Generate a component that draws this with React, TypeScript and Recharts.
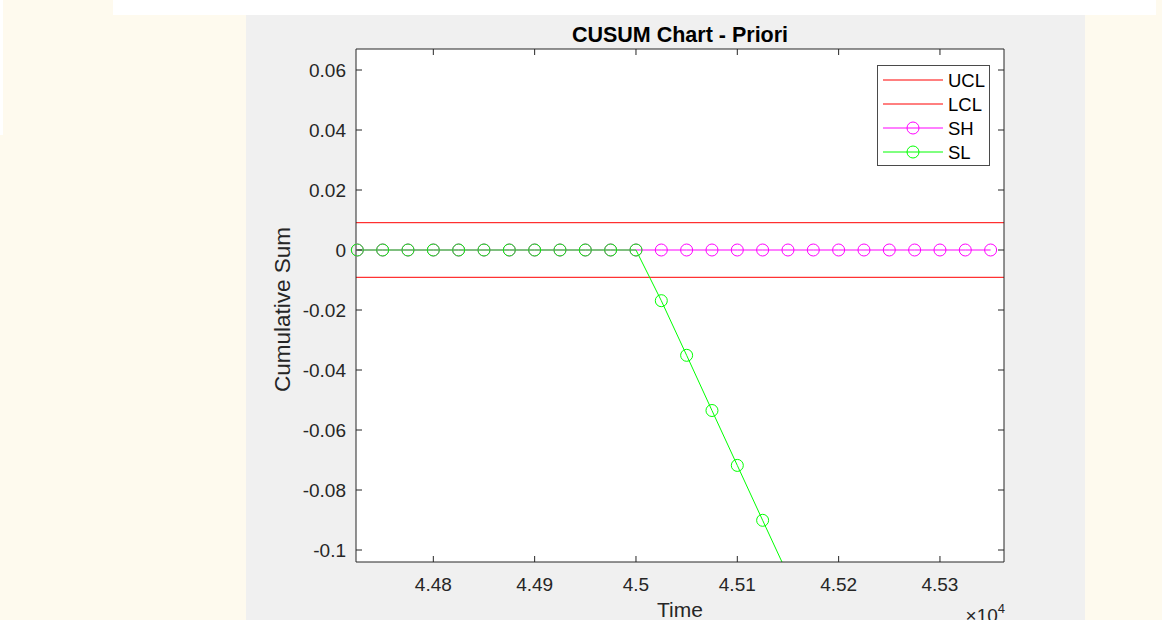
import React from 'react';
import { LineChart, Line, XAxis, YAxis, ReferenceLine, CartesianGrid, Legend } from 'recharts';

// ---- data ----
const timeValues = [
  44725, 44750, 44775, 44800, 44825, 44850, 44875, 44900, 44925, 44950, 44975, 45000,
  45025, 45050, 45075, 45100, 45125, 45150, 45175, 45200, 45225, 45250, 45275, 45300,
  45325, 45350,
];
const shValues = [
  0, 0, 0, 0, 0, 0, 0, 0, 0, 0, 0, 0,
  0, 0, 0, 0, 0, 0, 0, 0, 0, 0, 0, 0,
  0, 0,
];
const slValues: (number | null)[] = [
  0, 0, 0, 0, 0, 0, 0, 0, 0, 0, 0, 0,
  -0.0169, -0.0351, -0.0535, -0.0718, -0.0901, -0.1083, null, null, null, null, null, null,
  null, null,
];
const uclValue = 0.0091;
const lclValue = -0.0091;
const xTicks = [44800, 44900, 45000, 45100, 45200, 45300];
const yTicks = [0.06, 0.04, 0.02, 0, -0.02, -0.04, -0.06, -0.08, -0.1];
const xDomain = [44723.7, 45363.2];
const yDomain = [-0.104, 0.067];
const legendNames = ['UCL', 'LCL', 'SH', 'SL'];
const legendColors = ['#ff0000', '#ff0000', '#ff00ff', '#00ff00'];
const legendMarkers = [false, false, true, true];

// markers are only drawn for points inside the axis limits (as MATLAB does)
const inRange = (v: number | null) => (v != null && v >= yDomain[0] && v <= yDomain[1] ? v : null);
const rows = timeValues.map((t, i) => ({
  t,
  sh: shValues[i],
  sl: slValues[i],
  slMark: inRange(slValues[i]),
}));

const FONT = '"Liberation Sans", Arial, Helvetica, sans-serif';
const AXIS = '#262626';
const TEXT = '#262626';

const fmtX = (v: number) => parseFloat((v / 10000).toFixed(4)).toString();
const fmtY = (v: number) => parseFloat(v.toFixed(4)).toString();

const BottomTick = (p: any) => (
  <g>
    <line x1={p.x} y1={p.y} x2={p.x} y2={p.y - 6} stroke={AXIS} strokeWidth={1} />
    <text x={p.x} y={p.y + 29} textAnchor="middle" fontSize={19} fill={TEXT} fontFamily={FONT}>
      {fmtX(p.payload.value)}
    </text>
  </g>
);
const TopTick = (p: any) => (
  <line x1={p.x} y1={p.y} x2={p.x} y2={p.y + 6} stroke={AXIS} strokeWidth={1} />
);
const LeftTick = (p: any) => (
  <g>
    <line x1={p.x} y1={p.y} x2={p.x + 6} y2={p.y} stroke={AXIS} strokeWidth={1} />
    <text x={p.x - 10} y={p.y + 7} textAnchor="end" fontSize={19} fill={TEXT} fontFamily={FONT}>
      {fmtY(p.payload.value)}
    </text>
  </g>
);
const RightTick = (p: any) => (
  <line x1={p.x} y1={p.y} x2={p.x - 6} y2={p.y} stroke={AXIS} strokeWidth={1} />
);

const TitleLabel = (p: any) => {
  const vb = p.viewBox;
  return (
    <text x={vb.x + vb.width / 2} y={vb.y - 6} textAnchor="middle" fontSize={21.5} fontWeight="bold" fill="#000" fontFamily={FONT}>
      CUSUM Chart - Priori
    </text>
  );
};
const XLabel = (p: any) => {
  const vb = p.viewBox;
  return (
    <g>
      <text x={vb.x + vb.width / 2} y={vb.y + 55} textAnchor="middle" fontSize={21} fill={TEXT} fontFamily={FONT}>
        Time
      </text>
      <text x={vb.x + vb.width + 1} y={vb.y + 60} textAnchor="end" fontSize={19} fill={TEXT} fontFamily={FONT}>
        ×10<tspan dy={-9} fontSize={13}>4</tspan>
      </text>
    </g>
  );
};
const YLabel = (p: any) => {
  const vb = p.viewBox;
  const cx = vb.x - 6;
  const cy = vb.y + vb.height / 2 + 4;
  return (
    <text x={cx} y={cy} transform={`rotate(-90, ${cx}, ${cy})`} textAnchor="middle" fontSize={22.5} fill={TEXT} fontFamily={FONT}>
      Cumulative Sum
    </text>
  );
};

const LegendBox = () => (
  <div style={{ width: 111, height: 99, border: '1px solid #4a4a4a', background: '#fff', boxSizing: 'content-box' }}>
    <svg width={111} height={99}>
      {legendNames.map((n, i) => {
        const cy = 14 + i * 24;
        return (
          <g key={n}>
            <line x1={5} y1={cy} x2={65} y2={cy} stroke={legendColors[i]} strokeWidth={1} />
            {legendMarkers[i] && <circle cx={35} cy={cy} r={6} stroke={legendColors[i]} fill="none" strokeWidth={1} />}
            <text x={70} y={cy + 6.5} fontSize={18.5} fill="#000" fontFamily={FONT}>{n}</text>
          </g>
        );
      })}
    </svg>
  </div>
);

export default function App() {
  return (
    <div style={{ position: 'absolute', left: 0, top: 0, width: 1162, height: 620, overflow: 'hidden', background: '#fefaee' }}>
      <div style={{ position: 'absolute', left: 0, top: 0, width: 3, height: 135, background: '#ffffff' }} />
      <div style={{ position: 'absolute', left: 113, top: 0, width: 1043, height: 15, background: '#ffffff' }} />
      <div style={{ position: 'absolute', left: 246, top: 15, width: 839, height: 605, background: '#f0f0f0' }} />
      <div style={{ position: 'absolute', left: 0, top: 0 }}>
        <LineChart width={1162} height={620} data={rows} margin={{ top: 48, right: 157, bottom: 28, left: 296 }}>
          <CartesianGrid horizontal={false} vertical={false} fill="#ffffff" fillOpacity={1} />
          <XAxis
            xAxisId={0}
            dataKey="t"
            type="number"
            domain={xDomain}
            allowDataOverflow
            ticks={xTicks}
            interval={0}
            height={30}
            tickSize={0}
            tickMargin={0}
            tickLine={false}
            tick={<BottomTick />}
            axisLine={{ stroke: AXIS, strokeWidth: 1 }}
            label={<XLabel />}
          />
          <XAxis
            xAxisId="top"
            orientation="top"
            dataKey="t"
            type="number"
            domain={xDomain}
            allowDataOverflow
            ticks={xTicks}
            interval={0}
            height={1}
            tickSize={0}
            tickMargin={0}
            tickLine={false}
            tick={<TopTick />}
            axisLine={{ stroke: AXIS, strokeWidth: 1 }}
            label={<TitleLabel />}
          />
          <YAxis
            yAxisId={0}
            type="number"
            domain={yDomain}
            allowDataOverflow
            ticks={yTicks}
            interval={0}
            width={60}
            tickSize={0}
            tickMargin={0}
            tickLine={false}
            tick={<LeftTick />}
            axisLine={{ stroke: AXIS, strokeWidth: 1 }}
            label={<YLabel />}
          />
          <YAxis
            yAxisId="right"
            orientation="right"
            type="number"
            domain={yDomain}
            allowDataOverflow
            ticks={yTicks}
            interval={0}
            width={1}
            tickSize={0}
            tickMargin={0}
            tickLine={false}
            tick={<RightTick />}
            axisLine={{ stroke: AXIS, strokeWidth: 1 }}
          />
          <ReferenceLine y={uclValue} stroke="#ff0000" strokeWidth={1} />
          <ReferenceLine y={lclValue} stroke="#ff0000" strokeWidth={1} />
          <Line
            dataKey="sh"
            stroke="#ff00ff"
            strokeWidth={1}
            isAnimationActive={false}
            dot={{ r: 6, stroke: '#ff00ff', fill: 'none', strokeWidth: 1, clipDot: false }}
            activeDot={false}
          />
          <Line
            dataKey="sl"
            stroke="#00ff00"
            strokeWidth={1}
            isAnimationActive={false}
            connectNulls={false}
            dot={false}
            activeDot={false}
          />
          <Line
            dataKey="slMark"
            stroke="none"
            strokeWidth={0}
            isAnimationActive={false}
            legendType="none"
            dot={{ r: 6, stroke: '#00ff00', fill: 'none', strokeWidth: 1, clipDot: false }}
            activeDot={false}
          />
          <Legend
            layout="vertical"
            align="center"
            verticalAlign="middle"
            content={<LegendBox />}
            wrapperStyle={{ left: 877, top: 65, width: 113, height: 101 }}
          />
        </LineChart>
      </div>
    </div>
  );
}
